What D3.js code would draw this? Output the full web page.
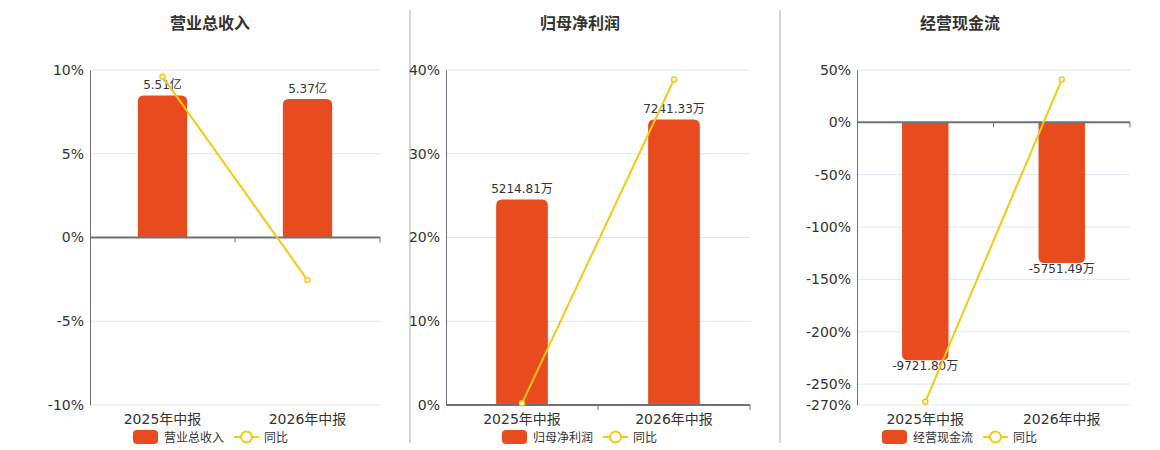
<!DOCTYPE html>
<html>
<head>
<meta charset="utf-8">
<script src="https://cdn.jsdelivr.net/npm/d3@7"></script>
<style>
  body { margin: 0; background: #fff; }
  svg { display: block; font-family: "DejaVu Sans", "Noto Sans CJK SC", sans-serif; }
</style>
</head>
<body>
<svg id="chart" width="1160" height="450"></svg>
<script>
// 数据
const categories = ['2025年中报', '2026年中报']

const titles = ['营业总收入', '归母净利润', '经营现金流']

const revenueValues = [5.51, 5.37]
const revenueLabels = ['5.51亿', '5.37亿']
const revenueYoy = [9.6, -2.54]

const profitValues = [5214.81, 7241.33]
const profitLabels = ['5214.81万', '7241.33万']
const profitYoy = [0.2, 38.86]

const cashValues = [-9721.80, -5751.49]
const cashLabels = ['-9721.80万', '-5751.49万']
const cashYoy = [-267, 40.84]

const revenueTicks = [10, 5, 0, -5, -10]
const profitTicks = [40, 30, 20, 10, 0]
const cashTicks = [50, 0, -50, -100, -150, -200, -250, -270]

const BAR_COLOR = '#e84c1e'
const LINE_COLOR = '#f3c914'

const svg = d3.select('#chart')

// 分隔线
svg.selectAll('line.sep')
    .data([410, 780])
    .enter()
    .append('line')
    .attr('x1', d => d).attr('x2', d => d)
    .attr('y1', 10).attr('y2', 443)
    .attr('stroke', '#aaa')
    .attr('stroke-width', 1)

const panels = [
    {
        title: titles[0], titleX: 210, left: 90, right: 380,
        lineDomain: [-10, 10], barDomain: [-6.5, 6.5], ticks: revenueTicks,
        values: revenueValues, labels: revenueLabels, yoy: revenueYoy,
        legendX: 133,
    },
    {
        title: titles[1], titleX: 580, left: 446, right: 750,
        lineDomain: [0, 40], barDomain: [0, 8500], ticks: profitTicks,
        values: profitValues, labels: profitLabels, yoy: profitYoy,
        legendX: 502,
    },
    {
        title: titles[2], titleX: 960, left: 857, right: 1130,
        lineDomain: [-270, 50], barDomain: [-11556, 2140], ticks: cashTicks,
        values: cashValues, labels: cashLabels, yoy: cashYoy,
        legendX: 882,
    },
]

const TOP = 70
const BOTTOM = 405

panels.forEach((p) => {
    const g = svg.append('g')

    const x = d3.scaleBand()
        .domain(categories)
        .range([p.left, p.right])

    const yLine = d3.scaleLinear().domain(p.lineDomain).range([BOTTOM, TOP])
    const yBar = d3.scaleLinear().domain(p.barDomain).range([BOTTOM, TOP])

    // 标题
    g.append('text')
        .attr('x', p.titleX)
        .attr('y', 29)
        .attr('text-anchor', 'middle')
        .attr('font-size', 16)
        .attr('font-weight', 'bold')
        .attr('font-family', '"Noto Sans CJK SC", sans-serif')
        .attr('fill', '#333')
        .text(p.title)

    // 网格
    g.selectAll('line.grid')
        .data(p.ticks)
        .enter()
        .append('line')
        .attr('x1', p.left).attr('x2', p.right)
        .attr('y1', d => yLine(d)).attr('y2', d => yLine(d))
        .attr('stroke', '#e0e6f1')
        .attr('stroke-width', 1)

    // 纵轴
    const yAxis = d3.axisLeft(yLine)
        .tickValues(p.ticks)
        .tickSize(0)
        .tickPadding(6)
        .tickFormat(d => `${d}%`)

    const ya = g.append('g')
        .attr('transform', `translate(${p.left},0)`)
        .call(yAxis)
    ya.select('.domain').attr('stroke', '#6e7079')
    ya.selectAll('text')
        .attr('font-size', 14)
        .attr('fill', '#333')
        .attr('font-family', '"DejaVu Sans", sans-serif')

    // 柱子 (顶部圆角)
    const bw = x.bandwidth() * 0.34
    const r = 6
    const zero = yBar(0)
    g.selectAll('path.bar')
        .data(p.values)
        .enter()
        .append('path')
        .attr('fill', BAR_COLOR)
        .attr('d', (d, i) => {
            const x0 = x(categories[i]) + (x.bandwidth() - bw) / 2
            const x1 = x0 + bw
            const yv = yBar(d)
            if (d >= 0) {
                return `M${x0},${zero} V${yv + r} Q${x0},${yv} ${x0 + r},${yv} H${x1 - r} Q${x1},${yv} ${x1},${yv + r} V${zero} Z`
            }
            return `M${x0},${zero} V${yv - r} Q${x0},${yv} ${x0 + r},${yv} H${x1 - r} Q${x1},${yv} ${x1},${yv - r} V${zero} Z`
        })

    // 零线 + 类目刻度
    g.append('line')
        .attr('x1', p.left).attr('x2', p.right)
        .attr('y1', zero).attr('y2', zero)
        .attr('stroke', '#6e7079')
        .attr('stroke-width', 2)
    g.selectAll('line.ctick')
        .data(categories.slice(1).map(c => x(c)).concat([p.right]))
        .enter()
        .append('line')
        .attr('x1', d => d).attr('x2', d => d)
        .attr('y1', zero).attr('y2', zero + 5)
        .attr('stroke', '#6e7079')
        .attr('stroke-width', 1)

    // 类目标签
    g.selectAll('text.cat')
        .data(categories)
        .enter()
        .append('text')
        .attr('x', d => x(d) + x.bandwidth() / 2)
        .attr('y', 424)
        .attr('text-anchor', 'middle')
        .attr('font-size', 14)
        .attr('fill', '#333')
        .text(d => d)

    // 柱子数值
    g.selectAll('text.val')
        .data(p.values)
        .enter()
        .append('text')
        .attr('x', (d, i) => x(categories[i]) + x.bandwidth() / 2)
        .attr('y', d => (d >= 0 ? yBar(d) - 6.5 : yBar(d) + 10))
        .attr('text-anchor', 'middle')
        .attr('font-size', 12)
        .attr('fill', '#333')
        .text((d, i) => p.labels[i])

    // 同比折线
    const line = d3.line()
        .x((d, i) => x(categories[i]) + x.bandwidth() / 2)
        .y(d => yLine(d))
    g.append('path')
        .datum(p.yoy)
        .attr('fill', 'none')
        .attr('stroke', LINE_COLOR)
        .attr('stroke-width', 2)
        .attr('d', line)
    g.selectAll('circle.pt')
        .data(p.yoy)
        .enter()
        .append('circle')
        .attr('cx', (d, i) => x(categories[i]) + x.bandwidth() / 2)
        .attr('cy', d => yLine(d))
        .attr('r', 2.5)
        .attr('fill', '#fff')
        .attr('stroke', LINE_COLOR)
        .attr('stroke-width', 1.5)

    // 图例
    const lg = g.append('g').attr('transform', `translate(${p.legendX},437)`)
    lg.append('rect')
        .attr('x', 0).attr('y', -7)
        .attr('width', 25).attr('height', 14)
        .attr('rx', 4)
        .attr('fill', BAR_COLOR)
    lg.append('text')
        .attr('x', 31).attr('y', 5)
        .attr('font-size', 12)
        .attr('font-family', '"Noto Sans CJK SC", sans-serif')
        .attr('fill', '#333')
        .text(p.title)
    lg.append('line')
        .attr('x1', 101).attr('x2', 126)
        .attr('y1', 0).attr('y2', 0)
        .attr('stroke', LINE_COLOR)
        .attr('stroke-width', 2)
    lg.append('circle')
        .attr('cx', 113.5).attr('cy', 0)
        .attr('r', 5.5)
        .attr('fill', '#fff')
        .attr('stroke', LINE_COLOR)
        .attr('stroke-width', 2)
    lg.append('text')
        .attr('x', 131).attr('y', 5)
        .attr('font-size', 12)
        .attr('font-family', '"Noto Sans CJK SC", sans-serif')
        .attr('fill', '#333')
        .text('同比')
})
</script>
</body>
</html>
